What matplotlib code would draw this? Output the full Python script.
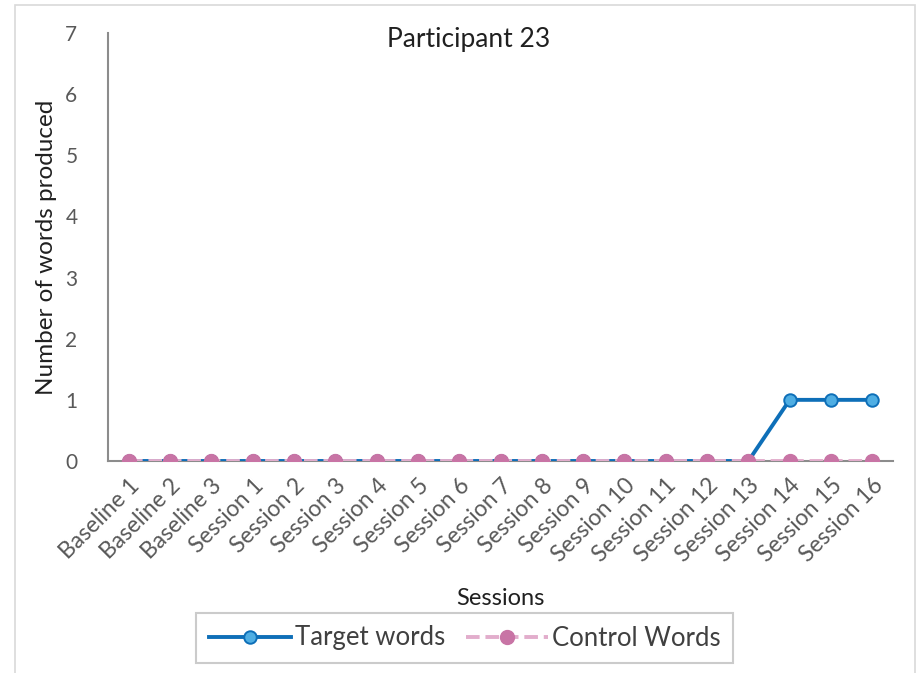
import matplotlib
matplotlib.use('Agg')
import matplotlib.pyplot as plt
from matplotlib.patches import Rectangle

plt.rcParams['font.family'] = ['Lato', 'DejaVu Sans']

# 数据
sessions = ['Baseline 1', 'Baseline 2', 'Baseline 3'] + ['Session %d' % i for i in range(1, 17)]
target_words = [0, 0, 0, 0, 0, 0, 0, 0, 0, 0, 0, 0, 0, 0, 0, 0, 1, 1, 1]
control_words = [0, 0, 0, 0, 0, 0, 0, 0, 0, 0, 0, 0, 0, 0, 0, 0, 0, 0, 0]
y_ticks = [0, 1, 2, 3, 4, 5, 6, 7]

fig = plt.figure(figsize=(9.24, 6.73), dpi=100)
ax = fig.add_axes([108/924, 1-461/673, (893-108)/924, (461-33)/673])

x = list(range(len(sessions)))
ax.plot(x, target_words, color='#0E6FB8', lw=2.8, marker='o', ms=9,
        mfc='#4FAEE3', mec='#0E6FB8', mew=1.4, label='Target words', zorder=3)
ax.plot(x, control_words, color='#E2ADCC', lw=2.8, ls=(0, (3.5, 1.5)), marker='o', ms=10,
        mfc='#C874A5', mec='#C874A5', label='Control Words', zorder=4)

ax.set_xlim(-0.5, len(sessions) - 0.5)
ax.set_ylim(0, 7)
ax.set_yticks(y_ticks)
ax.set_xticks(x)
ax.set_xticklabels(sessions, rotation=45, ha='right', rotation_mode='anchor')
ax.tick_params(axis='both', length=0, colors='#595959')
ax.tick_params(axis='x', labelsize=16.5, pad=10)
ax.tick_params(axis='y', labelsize=15, pad=22)

for s in ['top', 'right']:
    ax.spines[s].set_visible(False)
for s in ['left', 'bottom']:
    ax.spines[s].set_color('#8C8C8C')
    ax.spines[s].set_linewidth(1.5)

ax.text(0.46, 1.015, 'Participant 23', transform=ax.transAxes, ha='center', va='top',
        fontsize=19, color='#202020')
ax.set_ylabel('Number of words produced', fontsize=17.5, color='#202020', labelpad=6)
ax.set_xlabel('Sessions', fontsize=17, color='#202020', labelpad=16)

leg = ax.legend(loc='center', bbox_to_anchor=((180+749)/2/924, 1-638/673), bbox_transform=fig.transFigure,
                ncol=2, fontsize=18.5, frameon=True, fancybox=False, numpoints=1,
                handlelength=3.2, handletextpad=0.15, columnspacing=0.8, borderpad=0.5)
leg.get_frame().set_edgecolor('#BFBFBF')
leg.get_frame().set_linewidth(1.5)
for t in leg.get_texts():
    t.set_color('#404040')

# 外框
fig.patches.append(Rectangle((15/924, -0.01), 900/924, 1-5/673+0.01, transform=fig.transFigure,
                             fill=False, edgecolor='#D9D9D9', lw=1.2))

fig.savefig('out.png', dpi=100)
